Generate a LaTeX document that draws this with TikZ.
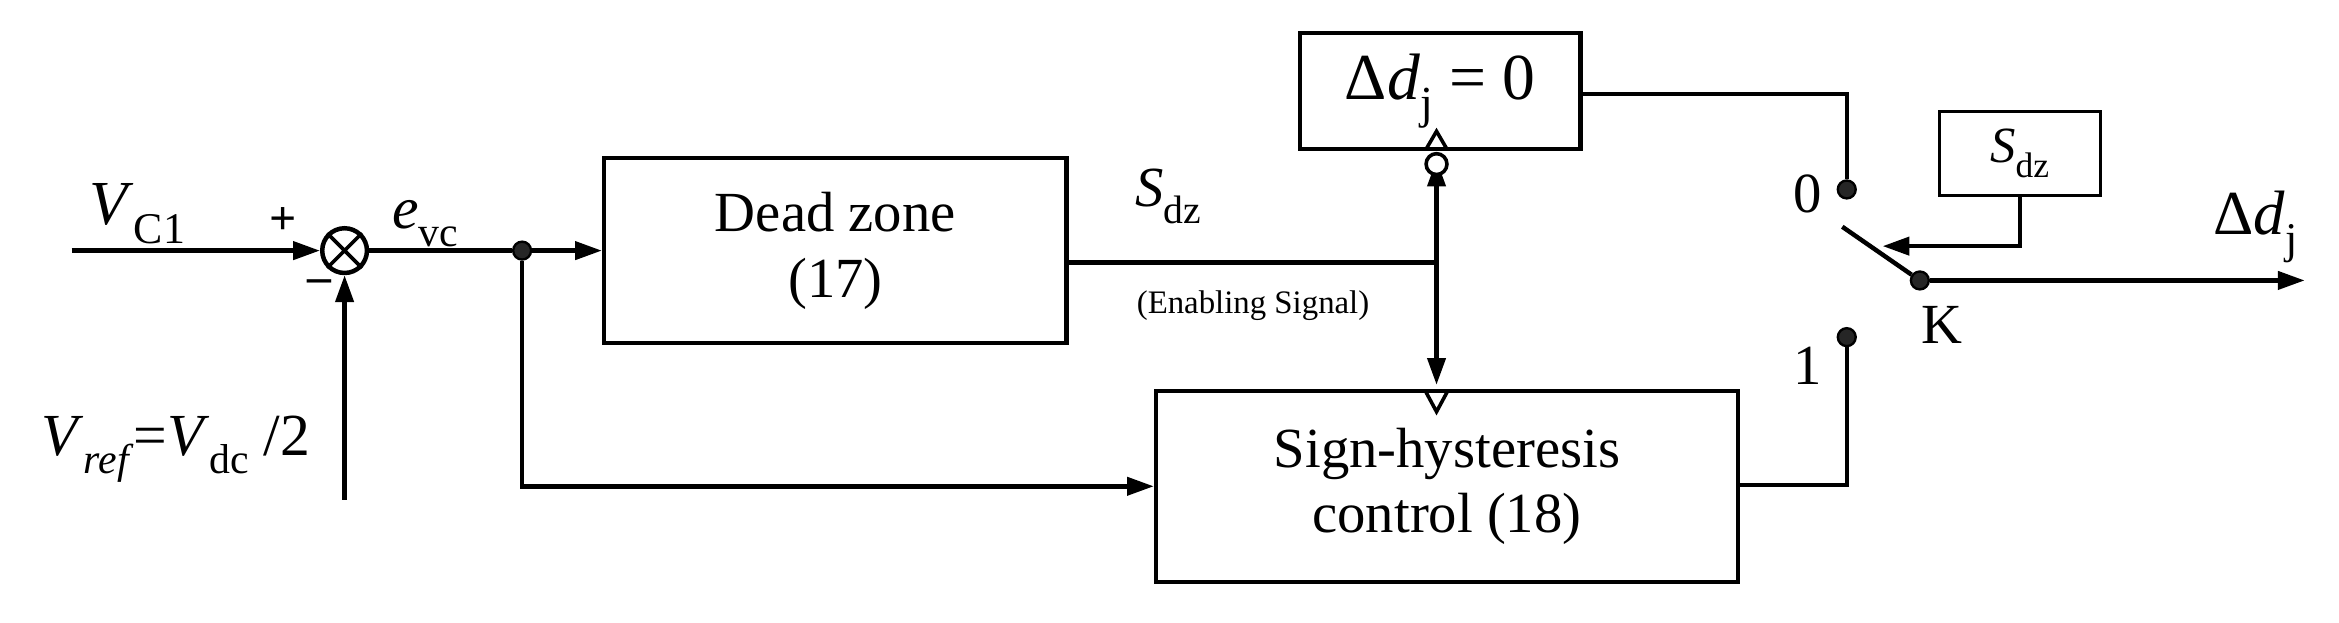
\documentclass[tikz,border=0pt]{standalone}
\usepackage{fontspec}
\setmainfont{Liberation Serif}
\usetikzlibrary{arrows.meta}
\newcommand{\mysb}[1]{\raisebox{-0.3em}{\fontsize{0.7em}{0.8em}\selectfont #1}}
\begin{document}
\begin{tikzpicture}[x=0.5pt,y=-0.5pt,line width=1.5pt,
  box/.style={draw,line width=1.5pt,inner sep=0pt},
  big/.style={font=\fontsize{19}{22}\selectfont},
  arr/.style={-{Triangle[length=9pt,width=6pt]}},
  dot/.style={circle,fill=black!85,draw=black,line width=0.8pt,minimum size=6pt,inner sep=0pt}]
\useasboundingbox (0,0) rectangle (1568,417);
% boxes
\node[box,minimum width=155pt,minimum height=62pt,big,align=center] (dz) at (560,168) {Dead zone\\(17)};
\node[box,minimum width=195pt,minimum height=64pt,big,align=center] (sh) at (970,326) {Sign-hysteresis\\control (18)};
\node[box,minimum width=94pt,minimum height=39pt,font=\fontsize{22}{24}\selectfont] (dd) at (965.5,61) {Δ\textit{d}\mysb{j} = 0};
\node[box,line width=1pt,minimum width=54pt,minimum height=28pt,font=\fontsize{17}{20}\selectfont] (sb) at (1354,103) {\textit{S}\mysb{dz}};
% summing junction
\node[circle,draw,minimum size=15pt,inner sep=0pt] (sum) at (231,168) {};
\draw[line width=1.2pt] (sum.north west)--(sum.south east) (sum.north east)--(sum.south west);
% coordinates
\coordinate (vin) at (48,168);
\coordinate (vref) at (231,335);
\node[dot] (j1) at (350,168) {};
\coordinate (j2) at (963,176);
\node[dot] (c0) at (1238,127) {};
\node[dot] (c1) at (1238,226) {};
\node[dot] (k) at (1287,188) {};
\coordinate (bl) at (1235,152);
\coordinate (out) at (1545,188);
% connectors
\draw[arr] (vin) -- (sum.west);
\draw[arr] (vref) -- (sum.south);
\draw (sum.east) -- (j1);
\draw[arr] (j1) -- (dz.west);
\draw[arr] (j1) |- (sh.west);
\draw (dz.east |- j2) -- (j2);
\draw[{Triangle[length=9pt,width=6pt]}-{Triangle[length=9pt,width=6pt]}] (963,107) -- (963,258);
\draw[line width=1.2pt,fill=white] (963,110) circle (3.5pt);
\draw[line width=1.2pt] (956,100) -- (963,88) -- (970,100);
\draw[line width=1.2pt] (956,263) -- (963,276) -- (970,263);
\draw (dd.east |- 0,63) -| (c0);
\draw (sh.east |- 0,325) -| (c1);
\draw (bl) -- (k);
\draw[arr] (k) -- (out);
\draw[arr] (sb.south) |- (1262,165);
% labels
\node[font=\fontsize{21}{24}\selectfont] at (92,143) {\textit{V}\mysb{C1}};
\node[font=\fontsize{16}{18}\selectfont] at (190,148) {\textbf{+}};
\node[font=\fontsize{16}{18}\selectfont] at (214,192) {\textbf{--}};
\node[font=\fontsize{20}{22}\selectfont] at (118,301) {\textit{V}\mysb{\textit{ref}}=\textit{V}\mysb{dc} /2};
\node[font=\fontsize{20}{22}\selectfont] at (285,150) {\textit{e}\mysb{vc}};
\node[font=\fontsize{19}{22}\selectfont] at (783,132) {\textit{S}\mysb{dz}};
\node[font=\fontsize{11}{13}\selectfont] at (840,205) {(Enabling Signal)};
\node[font=\fontsize{19}{22}\selectfont] at (1212,130) {0};
\node[font=\fontsize{19}{22}\selectfont] at (1212,245) {1};
\node[font=\fontsize{19}{22}\selectfont] at (1302,218) {K};
\node[font=\fontsize{21}{24}\selectfont] at (1512,152) {Δ\textit{d}\mysb{j}};
\end{tikzpicture}
\end{document}
